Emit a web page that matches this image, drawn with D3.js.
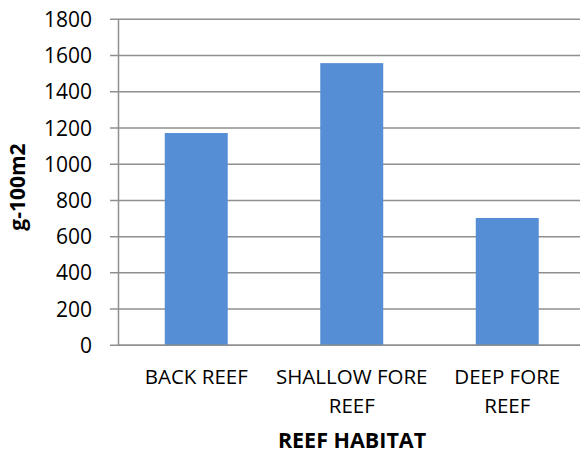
<!DOCTYPE html>
<html>
<head>
<meta charset="utf-8">
<script src="https://cdn.jsdelivr.net/npm/d3@7"></script>
<style>
html,body{margin:0;padding:0;background:#fff;overflow:hidden;}
svg{display:block;font-family:"Open Sans",sans-serif;}
</style>
</head>
<body>
<svg id="chart" width="580" height="455"></svg>
<script>
const categories = ["BACK REEF", "SHALLOW FORE REEF", "DEEP FORE REEF"];
const values = [1172, 1558, 703];
const yTicks = [0, 200, 400, 600, 800, 1000, 1200, 1400, 1600, 1800];
const yTitle = "g-100m2";
const xTitle = "REEF HABITAT";

(function () {
const svg = d3.select("#chart");
const mLeft = 118.5, mRight = 585, mTop = 19.3, mBottom = 345.3;

const x = d3.scaleBand().domain(categories).range([mLeft, mRight])
  .paddingInner(0.595).paddingOuter(0.2975);
const y = d3.scaleLinear().domain([0, 1800]).range([mBottom, mTop]);

const gridColor = "#8f8f8f";

svg.append("g").selectAll("line").data(yTicks).join("line")
  .attr("x1", mLeft - 8.5).attr("x2", 580)
  .attr("y1", d => y(d)).attr("y2", d => y(d))
  .attr("stroke", gridColor).attr("stroke-width", 1.5);

svg.append("g").selectAll("rect").data(values).join("rect")
  .attr("x", (d, i) => x(categories[i]))
  .attr("width", x.bandwidth())
  .attr("y", d => y(d))
  .attr("height", d => y(0) - y(d))
  .attr("fill", "#558ed5");

svg.append("line").attr("x1", mLeft).attr("x2", 580)
  .attr("y1", y(0)).attr("y2", y(0))
  .attr("stroke", gridColor).attr("stroke-width", 1.5);

svg.append("line").attr("x1", mLeft).attr("x2", mLeft)
  .attr("y1", y(1800)).attr("y2", y(0))
  .attr("stroke", gridColor).attr("stroke-width", 1.5);

svg.append("g").selectAll("text").data(yTicks).join("text")
  .attr("x", 92).attr("y", d => y(d))
  .attr("dy", "0.36em")
  .attr("text-anchor", "end")
  .attr("font-size", 21).attr("fill", "#000")
  .text(d => d);

function wrapLines(text, maxW, fontSize) {
  const tmp = svg.append("text").attr("font-size", fontSize).attr("visibility", "hidden");
  const words = text.split(" ");
  const lines = [];
  let cur = "";
  for (const w of words) {
    const test = cur ? cur + " " + w : w;
    tmp.text(test);
    if (tmp.node().getComputedTextLength() > maxW && cur) {
      lines.push(cur); cur = w;
    } else cur = test;
  }
  if (cur) lines.push(cur);
  tmp.remove();
  return lines;
}
categories.forEach(c => {
  const lines = wrapLines(c, 155, 20.5);
  const t = svg.append("text")
    .attr("text-anchor", "middle").attr("font-size", 20.5).attr("fill", "#000");
  lines.forEach((ln, i) => {
    t.append("tspan").attr("x", x(c) + x.bandwidth() / 2)
      .attr("y", 384 + i * 29).text(ln);
  });
});

svg.append("text").attr("x", 352).attr("y", 448)
  .attr("text-anchor", "middle").attr("font-size", 21.5).attr("font-weight", "bold")
  .text(xTitle);
svg.append("text")
  .attr("transform", `translate(25,187) rotate(-90)`)
  .attr("text-anchor", "middle").attr("font-size", 21).attr("font-weight", "bold")
  .text(yTitle);
})();
</script>
</body>
</html>
